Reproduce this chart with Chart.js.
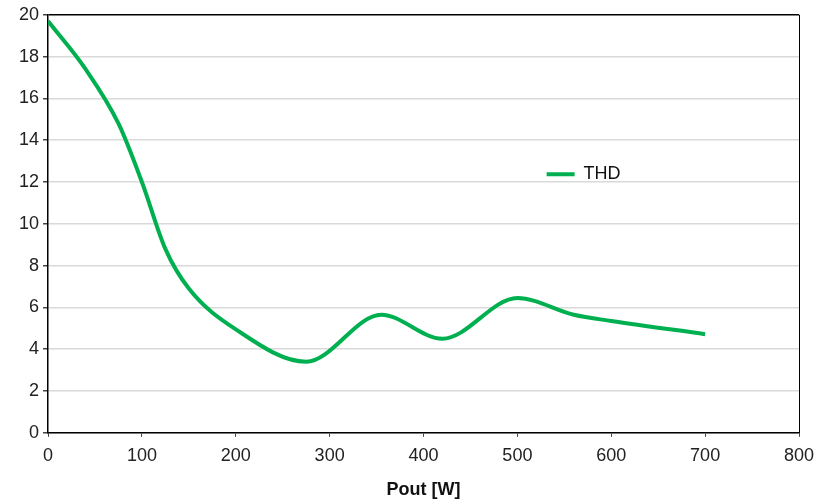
<!DOCTYPE html>
<html>
<head>
<meta charset="utf-8">
<script src="https://cdn.jsdelivr.net/npm/chart.js@4"></script>
<style>
html, body { margin: 0; padding: 0; background: #fff; }
#wrap { width: 819px; height: 501px; }
</style>
</head>
<body>
<div id="wrap"><canvas id="thdChart"></canvas></div>
<script>
// Pout [W] vs THD [%]
var pout = [0, 40, 75, 100, 125, 150, 200, 275, 355, 420, 500, 560, 600, 700];
var thd = [19.7, 17.4, 14.8, 12.0, 8.8, 6.9, 4.95, 3.4, 5.65, 4.5, 6.45, 5.65, 5.35, 4.72];
var xTicks = [0, 100, 200, 300, 400, 500, 600, 700, 800];
var yTicks = [0, 2, 4, 6, 8, 10, 12, 14, 16, 18, 20];

var puntos = pout.map(function(p, i) {
    return { x: p, y: thd[i] };
});

Chart.defaults.font.family = '"Liberation Sans", Arial, sans-serif';
Chart.defaults.font.size = 18;
Chart.defaults.color = '#222';

// move the legend inside the plot, next to the curve
var legendInside = {
    id: 'legendInside',
    afterLayout: function(chart) {
        var lg = chart.legend;
        var w = lg.width, h = lg.height;
        lg.left = chart.scales.x.getPixelForValue(529);
        lg.top = chart.scales.y.getPixelForValue(12.9);
        lg.right = lg.left + w;
        lg.bottom = lg.top + h;
    }
};

var ctx = document.getElementById('thdChart').getContext('2d');

var thdChart = new Chart(ctx, {
    type: 'line',
    data: {
        datasets: [{
            label: 'THD',
            data: puntos,
            borderColor: '#00B050',
            backgroundColor: '#00B050',
            borderWidth: 4,
            pointRadius: 0,
            cubicInterpolationMode: 'monotone',
            fill: false
        }]
    },
    options: {
        responsive: true,
        maintainAspectRatio: false,
        animation: false,
        layout: {
            padding: { top: 14, right: 0, left: 15, bottom: 0 }
        },
        scales: {
            x: {
                type: 'linear',
                min: 0,
                max: 800,
                afterBuildTicks: function(axis) {
                    axis.ticks = xTicks.map(function(v) { return { value: v }; });
                },
                afterFit: function(axis) {
                    // let the "800" label hang over the right edge a bit
                    axis.paddingRight = 20;
                },
                grid: {
                    color: function(c) { return c.tick && c.tick.value === 800 ? '#000' : 'rgba(0,0,0,0)'; },
                    tickColor: '#444',
                    tickLength: 4,
                    lineWidth: 1
                },
                border: { color: '#000', width: 1.5 },
                ticks: { color: '#222', padding: 8, maxRotation: 0 },
                title: {
                    display: true,
                    text: 'Pout [W]',
                    color: '#111',
                    font: { weight: 'bold', size: 18 },
                    padding: { top: 5, bottom: 0 }
                }
            },
            y: {
                min: 0,
                max: 20,
                afterBuildTicks: function(axis) {
                    axis.ticks = yTicks.map(function(v) { return { value: v }; });
                },
                grid: {
                    color: function(c) { return c.tick && c.tick.value === 20 ? '#000' : '#d9d9d9'; },
                    tickColor: '#444',
                    tickLength: 5,
                    lineWidth: 1.5
                },
                border: { color: '#000', width: 1.5 },
                ticks: { color: '#222', padding: 4 }
            }
        },
        plugins: {
            legend: {
                position: 'chartArea',
                align: 'start',
                labels: {
                    usePointStyle: true,
                    pointStyle: 'line',
                    pointStyleWidth: 28,
                    boxHeight: 10,
                    padding: 2,
                    color: '#111',
                    font: { size: 18 }
                }
            },
            tooltip: { enabled: false }
        }
    },
    plugins: [legendInside]
});
</script>
</body>
</html>
